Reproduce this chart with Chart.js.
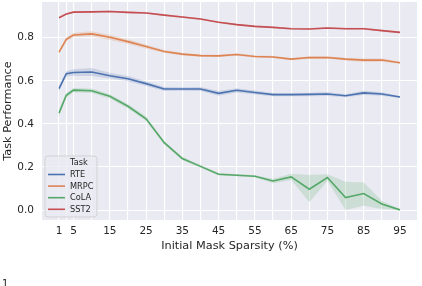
<!DOCTYPE html>
<html>
<head>
<meta charset="utf-8">
<script src="https://cdn.jsdelivr.net/npm/chart.js@4.4.1/dist/chart.umd.min.js"></script>
<style>
  html, body { margin: 0; padding: 0; background: #fff; overflow: hidden; }
  #wrap { position: relative; width: 422px; height: 286px; }
  #stray { position: absolute; left: 2px; top: 278px; font: 10px 'DejaVu Sans'; color: #222; }
</style>
</head>
<body>
<div id="wrap">
  <canvas id="chart" width="422" height="286"></canvas>
  <div id="stray">1</div>
</div>
<script>
// Data
const sparsity = [1, 3, 5, 10, 15, 20, 25, 30, 35, 40, 45, 50, 55, 60, 65, 70, 75, 80, 85, 90, 95];
const labeledTicks = [1, 5, 15, 25, 35, 45, 55, 65, 75, 85, 95];
const yTicks = [0, 0.2, 0.4, 0.6, 0.8];

const tasks = ['RTE', 'MRPC', 'CoLA', 'SST2'];
const colors = ['#4c72b0', '#dd8452', '#55a868', '#c44e52'];
const bandColors = ['rgba(76,114,176,0.2)', 'rgba(221,132,82,0.2)', 'rgba(85,168,104,0.2)', 'rgba(196,78,82,0.2)'];

const rte = [0.564, 0.633, 0.639, 0.641, 0.624, 0.610, 0.587, 0.562, 0.562, 0.562, 0.542, 0.556, 0.546, 0.536, 0.536, 0.537, 0.539, 0.531, 0.544, 0.539, 0.525];
const rteLow = [0.552, 0.620, 0.624, 0.622, 0.611, 0.598, 0.576, 0.553, 0.554, 0.553, 0.531, 0.546, 0.537, 0.529, 0.529, 0.529, 0.530, 0.524, 0.534, 0.531, 0.520];
const rteHigh = [0.576, 0.645, 0.654, 0.660, 0.637, 0.622, 0.598, 0.571, 0.570, 0.571, 0.553, 0.566, 0.555, 0.543, 0.543, 0.545, 0.548, 0.538, 0.554, 0.547, 0.530];

const mrpc = [0.733, 0.793, 0.813, 0.818, 0.802, 0.782, 0.759, 0.736, 0.724, 0.717, 0.716, 0.722, 0.713, 0.711, 0.701, 0.708, 0.708, 0.701, 0.696, 0.697, 0.684];
const mrpcLow = [0.726, 0.784, 0.803, 0.806, 0.790, 0.771, 0.749, 0.729, 0.718, 0.712, 0.711, 0.716, 0.708, 0.706, 0.696, 0.702, 0.702, 0.695, 0.688, 0.689, 0.679];
const mrpcHigh = [0.740, 0.802, 0.823, 0.830, 0.814, 0.793, 0.769, 0.743, 0.730, 0.722, 0.721, 0.728, 0.718, 0.716, 0.706, 0.714, 0.714, 0.707, 0.704, 0.705, 0.689];

const cola = [0.451, 0.533, 0.557, 0.554, 0.528, 0.482, 0.424, 0.313, 0.239, 0.203, 0.166, 0.162, 0.157, 0.135, 0.154, 0.097, 0.151, 0.058, 0.077, 0.028, 0.001];
const colaLow = [0.434, 0.522, 0.547, 0.544, 0.518, 0.472, 0.414, 0.305, 0.231, 0.196, 0.160, 0.157, 0.152, 0.125, 0.140, 0.036, 0.135, 0.000, 0.020, 0.005, 0.000];
const colaHigh = [0.468, 0.544, 0.567, 0.564, 0.538, 0.492, 0.434, 0.321, 0.247, 0.210, 0.172, 0.167, 0.162, 0.145, 0.169, 0.163, 0.166, 0.132, 0.128, 0.043, 0.003];

const sst2 = [0.893, 0.910, 0.919, 0.920, 0.922, 0.918, 0.915, 0.905, 0.896, 0.887, 0.872, 0.861, 0.853, 0.848, 0.842, 0.841, 0.845, 0.842, 0.842, 0.833, 0.825];
const sst2Low = [0.889, 0.906, 0.915, 0.916, 0.918, 0.914, 0.911, 0.901, 0.892, 0.883, 0.868, 0.857, 0.849, 0.844, 0.838, 0.837, 0.841, 0.838, 0.838, 0.829, 0.821];
const sst2High = [0.897, 0.914, 0.923, 0.924, 0.926, 0.922, 0.919, 0.909, 0.900, 0.891, 0.876, 0.865, 0.857, 0.852, 0.846, 0.845, 0.849, 0.846, 0.846, 0.837, 0.829];

const means = [rte, mrpc, cola, sst2];
const lows = [rteLow, mrpcLow, colaLow, sst2Low];
const highs = [rteHigh, mrpcHigh, colaHigh, sst2High];

const FONT = "'DejaVu Sans', sans-serif";
const TEXT = '#262626';

function toPoints(values) {
    return values.map((v, i) => ({ x: sparsity[i], y: v }));
}

// line datasets first so they draw on top of the bands
const datasets = [];
tasks.forEach((name, i) => {
    datasets.push({
        label: name,
        data: toPoints(means[i]),
        borderColor: colors[i],
        borderWidth: 1.6,
        pointRadius: 0,
        fill: false,
        tension: 0
    });
});
tasks.forEach((name, i) => {
    datasets.push({
        label: name + ' hi',
        data: toPoints(highs[i]),
        borderWidth: 0,
        pointRadius: 0,
        backgroundColor: bandColors[i],
        fill: '+1'
    });
    datasets.push({
        label: name + ' lo',
        data: toPoints(lows[i]),
        borderWidth: 0,
        pointRadius: 0,
        fill: false
    });
});

// background + legend drawn on the canvas
const seabornLook = {
    id: 'seabornLook',
    beforeDraw(chart) {
        const { ctx, chartArea: a } = chart;
        ctx.save();
        ctx.fillStyle = '#eaeaf2';
        ctx.fillRect(a.left, a.top, a.right - a.left, a.bottom - a.top);
        ctx.restore();
    },
    afterDraw(chart) {
        const ctx = chart.ctx;
        ctx.save();
        const bx = 45, by = 156, bw = 52, bh = 61, r = 3;
        ctx.beginPath();
        ctx.moveTo(bx + r, by);
        ctx.arcTo(bx + bw, by, bx + bw, by + bh, r);
        ctx.arcTo(bx + bw, by + bh, bx, by + bh, r);
        ctx.arcTo(bx, by + bh, bx, by, r);
        ctx.arcTo(bx, by, bx + bw, by, r);
        ctx.closePath();
        ctx.fillStyle = 'rgba(234,234,242,0.8)';
        ctx.fill();
        ctx.strokeStyle = 'rgba(204,204,204,0.8)';
        ctx.lineWidth = 1;
        ctx.stroke();

        ctx.font = '8.2px ' + FONT;
        ctx.fillStyle = TEXT;
        ctx.textBaseline = 'middle';
        ctx.textAlign = 'left';
        ctx.fillText('Task', 70, 163);
        tasks.forEach((name, i) => {
            const y = 174.5 + i * 11.6;
            ctx.strokeStyle = colors[i];
            ctx.lineWidth = 1.6;
            ctx.beginPath();
            ctx.moveTo(48, y);
            ctx.lineTo(65, y);
            ctx.stroke();
            ctx.fillText(name, 70, y + 0.5);
        });
        ctx.restore();
    }
};

new Chart(document.getElementById('chart'), {
    type: 'line',
    data: { datasets: datasets },
    plugins: [seabornLook],
    options: {
        responsive: false,
        animation: false,
        layout: { padding: { top: 2, right: 5, left: 0, bottom: 0 } },
        plugins: {
            legend: { display: false },
            tooltip: { enabled: false },
            filler: { propagate: false }
        },
        scales: {
            x: {
                type: 'linear',
                min: -3.7,
                max: 99.7,
                afterBuildTicks: (scale) => { scale.ticks = sparsity.map(v => ({ value: v })); },
                afterFit: (scale) => {
                    scale.height = 66;
                    scale.paddingLeft = 0;
                    scale.paddingRight = 0;
                },
                grid: { color: '#ffffff', lineWidth: 1.1, drawTicks: false },
                border: { display: false },
                ticks: {
                    autoSkip: false,
                    maxRotation: 0,
                    padding: 5,
                    color: TEXT,
                    font: { family: FONT, size: 10.5 },
                    callback: (v) => labeledTicks.includes(v) ? String(v) : ''
                },
                title: {
                    display: true,
                    text: 'Initial Mask Sparsity (%)',
                    color: TEXT,
                    font: { family: FONT, size: 11.3 },
                    padding: { top: 0, bottom: 33 }
                }
            },
            y: {
                min: -0.046,
                max: 0.966,
                afterBuildTicks: (scale) => { scale.ticks = yTicks.map(v => ({ value: v })); },
                afterFit: (scale) => {
                    scale.width = 42;
                    scale.paddingTop = 0;
                    scale.paddingBottom = 0;
                },
                grid: { color: '#ffffff', lineWidth: 1.1, drawTicks: false },
                border: { display: false },
                ticks: {
                    padding: 8,
                    color: TEXT,
                    font: { family: FONT, size: 10.5 },
                    callback: (v) => v.toFixed(1)
                },
                title: {
                    display: true,
                    text: 'Task Performance',
                    color: TEXT,
                    font: { family: FONT, size: 11.3 },
                    padding: { top: 1.5, bottom: 0 }
                }
            }
        }
    }
});
</script>
</body>
</html>
